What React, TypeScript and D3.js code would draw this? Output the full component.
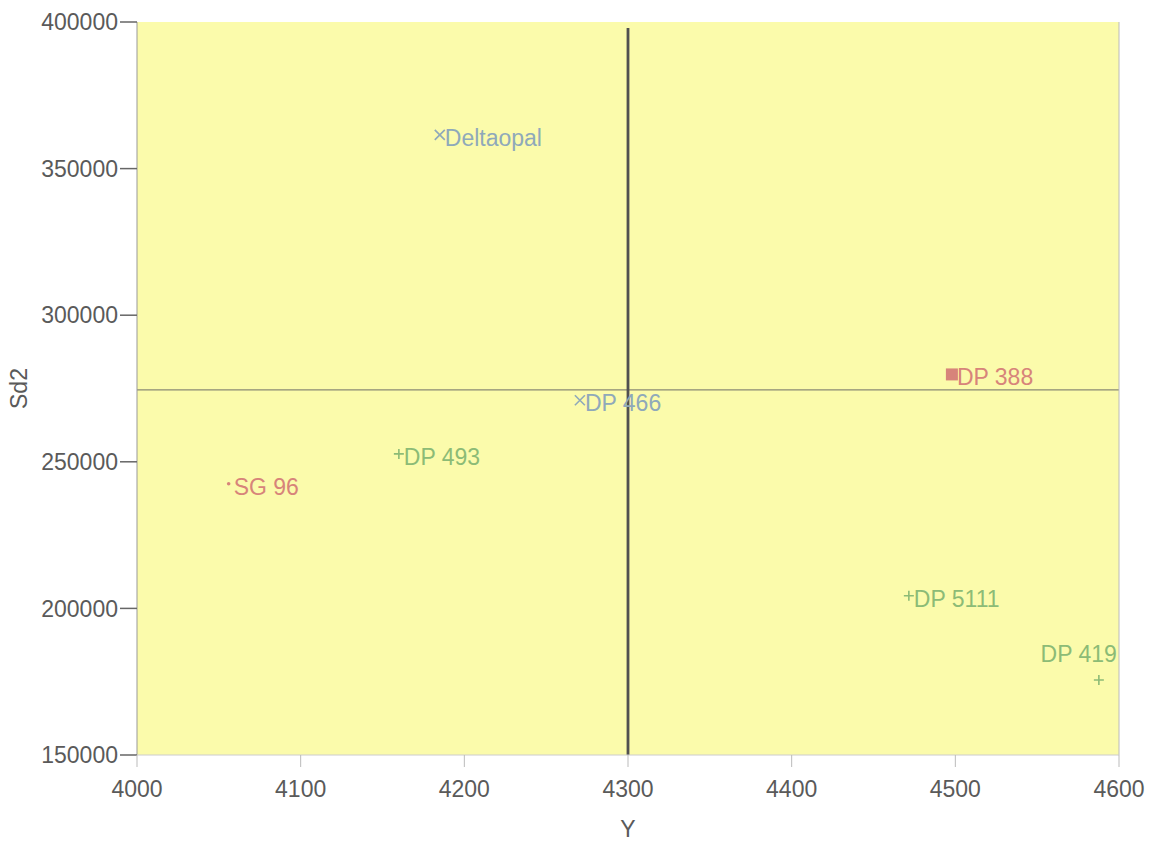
import React from "react";
import * as d3 from "d3";

const names = ["Deltaopal", "DP 466", "DP 388", "DP 493", "SG 96", "DP 5111", "DP 419"];
const xValues = [4185, 4270.6, 4497.9, 4160, 4056, 4471.6, 4587.7];
const yValues = [361500, 271000, 279800, 252700, 242500, 204300, 175600];
const groups = ["x", "x", "square", "plus", "dot", "plus", "plus"];
const xTicks = [4000, 4100, 4200, 4300, 4400, 4500, 4600];
const yTicks = [150000, 200000, 250000, 300000, 350000, 400000];
const xRefValue = 4300;
const yRefValue = 274500;

const colorOf: Record<string, string> = {
  x: "#8fa9ba",
  square: "#d7847a",
  dot: "#d7847a",
  plus: "#8cbb76",
};

export default function App() {
  const W = 1153, H = 841;
  const left = 137, right = 1119, top = 22, bottom = 755;
  const x = d3.scaleLinear().domain([4000, 4600]).range([left, right]);
  const y = d3.scaleLinear().domain([150000, 400000]).range([bottom, top]);
  const font = "'Liberation Sans', Arial, sans-serif";
  const fs = 23;

  return (
    <svg width={W} height={H} style={{ position: "absolute", left: 0, top: 0, background: "#fff" }}>
      <rect x={left} y={top} width={right - left} height={bottom - top} fill="#fbfbab" />
      {/* reference lines */}
      <line x1={left} x2={right} y1={y(yRefValue)} y2={y(yRefValue)} stroke="#8a8a74" strokeWidth={1.2} />
      <line x1={x(xRefValue)} x2={x(xRefValue)} y1={top + 6} y2={bottom} stroke="#505050" strokeWidth={2.8} />
      {/* axes */}
      <line x1={left} x2={left} y1={top} y2={bottom} stroke="#999" strokeWidth={1} />
      <line x1={right} x2={right} y1={top} y2={bottom} stroke="#bbb" strokeWidth={1} />
      <line x1={left} x2={right} y1={bottom} y2={bottom} stroke="#ccc" strokeWidth={1} />
      {yTicks.map((t) => (
        <g key={"y" + t}>
          <line x1={left - 17} x2={left} y1={y(t)} y2={y(t)} stroke="#666" strokeWidth={1.5} />
          <text x={left - 19} y={y(t)} dy="0.36em" textAnchor="end" fontSize={fs} fill="#5a5a5a" fontFamily={font}>
            {t}
          </text>
        </g>
      ))}
      {xTicks.map((t) => (
        <g key={"x" + t}>
          <line x1={x(t)} x2={x(t)} y1={bottom} y2={bottom + 12} stroke="#bbb" strokeWidth={1} />
          <text x={x(t)} y={bottom + 42} textAnchor="middle" fontSize={fs} fill="#5a5a5a" fontFamily={font}>
            {t}
          </text>
        </g>
      ))}
      <text x={x(4300)} y={837} textAnchor="middle" fontSize={fs} fill="#5a5a5a" fontFamily={font}>Y</text>
      <text transform={`translate(27,${(top + bottom) / 2}) rotate(-90)`} textAnchor="middle" fontSize={fs} fill="#5a5a5a" fontFamily={font}>Sd2</text>
      {/* points */}
      {names.map((n, i) => {
        const px = x(xValues[i]);
        const py = y(yValues[i]);
        const g = groups[i];
        const c = colorOf[g];
        let mark: React.ReactNode = null;
        if (g === "x") {
          mark = (
            <path d={`M${px - 5},${py - 5}L${px + 5},${py + 5}M${px - 5},${py + 5}L${px + 5},${py - 5}`} stroke={c} strokeWidth={1.6} />
          );
        } else if (g === "square") {
          mark = <rect x={px - 6} y={py - 6} width={12} height={12} fill={c} />;
        } else if (g === "plus") {
          mark = (
            <path d={`M${px - 5},${py}L${px + 5},${py}M${px},${py - 5}L${px},${py + 5}`} stroke={c} strokeWidth={1.6} />
          );
        } else {
          mark = <circle cx={px} cy={py} r={1.8} fill={c} />;
        }
        const isAbove = n === "DP 419";
        return (
          <g key={n}>
            {mark}
            <text
              x={isAbove ? px + 18 : px + 5}
              y={isAbove ? py - 18 : py + 11}
              textAnchor={isAbove ? "end" : "start"}
              fontSize={fs}
              fill={c}
              fontFamily={font}
            >
              {n}
            </text>
          </g>
        );
      })}
    </svg>
  );
}
